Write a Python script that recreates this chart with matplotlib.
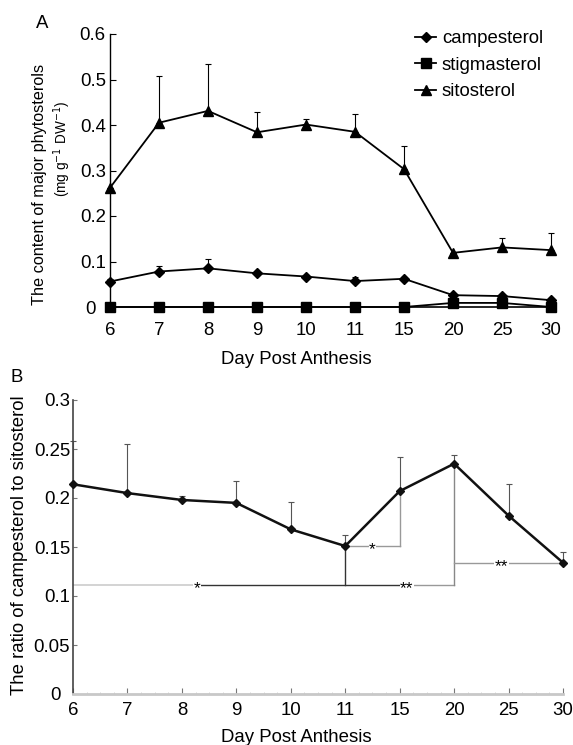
import numpy as np
import matplotlib
matplotlib.use("Agg")
import matplotlib.pyplot as plt
from matplotlib.ticker import MultipleLocator
from matplotlib.transforms import offset_copy, ScaledTranslation

plt.rcParams['font.family'] = ['Liberation Sans', 'DejaVu Sans']

# ---------------- data ----------------
days = ['6', '7', '8', '9', '10', '11', '15', '20', '25', '30']

campesterol = [0.056, 0.078, 0.085, 0.074, 0.067, 0.057, 0.062, 0.026, 0.024, 0.015]
campesterol_err = [0.006, 0.013, 0.020, 0.004, 0.004, 0.008, 0.003, 0.003, 0.003, 0.003]
stigmasterol = [0.0, 0.0, 0.0, 0.0, 0.0, 0.0, 0.0, 0.009, 0.009, 0.0]
sitosterol = [0.262, 0.405, 0.431, 0.384, 0.401, 0.385, 0.303, 0.119, 0.131, 0.125]
sitosterol_err = [0.0, 0.103, 0.102, 0.044, 0.012, 0.039, 0.051, 0.0, 0.021, 0.038]

ratio = [0.214, 0.205, 0.198, 0.195, 0.168, 0.151, 0.207, 0.235, 0.182, 0.134]
ratio_err = [0.044, 0.050, 0.004, 0.022, 0.028, 0.011, 0.035, 0.009, 0.032, 0.011]

a_yticks = [0, 0.1, 0.2, 0.3, 0.4, 0.5, 0.6]
a_yticklabels = ['0', '0.1', '0.2', '0.3', '0.4', '0.5', '0.6']
b_yticks = [0, 0.05, 0.1, 0.15, 0.2, 0.25, 0.3]
b_yticklabels = ['0', '0.05', '0.1', '0.15', '0.2', '0.25', '0.3']

# significance bracket base level and star positions
base_level = 0.111
star_single_x = 2.28
star_double_x = 6.13
star_pair_x = 7.87
star_11_15_x = 5.5

FS = 13.4
W, H = 573, 745
fig = plt.figure(figsize=(W / 100, H / 100), dpi=100)

def fx(px):
    return px / W

def fy(py):
    return 1 - py / H

x = np.arange(len(days))
zeros = np.zeros(len(days))

# ---------------- panel A ----------------
axA = fig.add_axes([fx(110), fy(307), fx(551) - fx(110), fy(34) - fy(307)])
axA.errorbar(x, sitosterol, yerr=[zeros, sitosterol_err], fmt='none', ecolor='black',
             elinewidth=0.8, capsize=2, capthick=0.8, clip_on=False)
axA.errorbar(x, campesterol, yerr=[zeros, campesterol_err], fmt='none', ecolor='black',
             elinewidth=0.8, capsize=2, capthick=0.8, clip_on=False)
axA.plot(x, campesterol, '-D', color='black', lw=1.3, ms=5.5, clip_on=False,
         label='campesterol', zorder=3)
axA.plot(x, stigmasterol, '-s', color='black', lw=1.3, ms=6.5, clip_on=False,
         label='stigmasterol', zorder=3)
axA.plot(x, sitosterol, '-^', color='black', lw=1.3, ms=7.5, clip_on=False,
         label='sitosterol', zorder=3)

axA.set_xlim(0, 9)
axA.set_ylim(0, 0.6)
axA.set_xticks(x)
axA.set_xticklabels(days)
axA.set_yticks(a_yticks)
axA.set_yticklabels(a_yticklabels)
axA.tick_params(axis='x', length=0, pad=11, labelsize=FS)
axA.tick_params(axis='y', direction='in', length=4, width=0.8, pad=3, labelsize=FS)
for s in ['top', 'right']:
    axA.spines[s].set_visible(False)
axA.spines['left'].set_linewidth(1.0)
axA.spines['bottom'].set_linewidth(1.2)
# the "0" label sits further left in the reference
lbl0 = axA.get_yticklabels()[0]
lbl0.set_transform(lbl0.get_transform() + ScaledTranslation(-10 / 100, 0, fig.dpi_scale_trans))

axA.legend(loc='upper left', bbox_to_anchor=((415 - 110) / 441, (307 - 30) / 273),
           frameon=False, fontsize=FS, handlelength=1.15, handletextpad=0.3,
           labelspacing=0.52, borderpad=0, borderaxespad=0, numpoints=1)

fig.text(fx(42), fy(24), 'A', fontsize=FS, ha='center', va='center')
fig.text(fx(40), fy(184), 'The content of major phytosterols', fontsize=11.7,
         rotation=90, ha='center', va='center')
fig.text(fx(62), fy(149), '(mg g$^{-1}$ DW$^{-1}$)', fontsize=9.8,
         rotation=90, ha='center', va='center')
fig.text(fx(296), fy(359), 'Day Post Anthesis', fontsize=FS, ha='center', va='center')

# ---------------- panel B ----------------
axB = fig.add_axes([fx(73), fy(694), fx(563) - fx(73), fy(400) - fy(694)])
axB.errorbar(x, ratio, yerr=[zeros, ratio_err], fmt='none', ecolor='#555555',
             elinewidth=0.8, capsize=2, capthick=0.8, clip_on=False)

# significance brackets
axB.plot([0, star_single_x], [base_level, base_level], color='#d0d0d0', lw=1.3, zorder=1)
axB.plot([star_single_x, star_double_x], [base_level, base_level], color='#333333', lw=1.0, zorder=1)
axB.plot([star_double_x, 7], [base_level, base_level], color='#999999', lw=1.0, zorder=1)
axB.plot([5, 5], [base_level, ratio[5]], color='#333333', lw=1.0, zorder=1)
axB.plot([7, 7], [base_level, ratio[7]], color='#888888', lw=1.0, zorder=1)
axB.plot([5, 6], [ratio[5], ratio[5]], color='#999999', lw=1.0, zorder=1)
axB.plot([6, 6], [ratio[5], ratio[6]], color='#999999', lw=1.0, zorder=1)
axB.plot([7, 9], [ratio[9], ratio[9]], color='#999999', lw=1.0, zorder=1)

bb = dict(facecolor='white', edgecolor='none', pad=0.3)
star_tr = offset_copy(axB.transData, fig=fig, x=0, y=-3.8, units='dots')
for sx, sy, s in [(star_single_x, base_level, '*'), (star_double_x, base_level, '**'),
                  (star_pair_x, ratio[9], '**'), (star_11_15_x, ratio[5], '*')]:
    axB.text(sx, sy, s, fontsize=12.5, ha='center', va='center', bbox=bb,
             transform=star_tr, zorder=2)

axB.plot(x, ratio, '-D', color='#111111', lw=1.8, ms=3.8, clip_on=False, zorder=3)

axB.set_xlim(0, 9)
axB.set_ylim(0, 0.3)
axB.set_xticks(x)
axB.set_xticklabels(days)
axB.xaxis.set_minor_locator(MultipleLocator(0.25))
axB.set_yticks(b_yticks)
axB.set_yticklabels(b_yticklabels)
axB.tick_params(axis='x', which='major', direction='in', length=4, width=0.8,
                color='#777777', pad=5.5, labelsize=FS)
axB.tick_params(axis='x', which='minor', direction='in', length=1.5, width=0.6,
                color='#cccccc')
axB.tick_params(axis='y', direction='in', length=3, width=0.8, color='#777777',
                pad=2, labelsize=FS)
for s in ['top', 'right']:
    axB.spines[s].set_visible(False)
axB.spines['left'].set_color('#444444')
axB.spines['left'].set_linewidth(1.2)
axB.spines['bottom'].set_color('#c8c8c8')
axB.spines['bottom'].set_linewidth(2.0)
lblb0 = axB.get_yticklabels()[0]
lblb0.set_transform(lblb0.get_transform() + ScaledTranslation(-9 / 100, 0, fig.dpi_scale_trans))

fig.text(fx(17), fy(378), 'B', fontsize=FS, ha='center', va='center')
fig.text(fx(20), fy(545), 'The ratio of campesterol to sitosterol', fontsize=FS,
         rotation=90, ha='center', va='center')
fig.text(fx(296), fy(737), 'Day Post Anthesis', fontsize=FS, ha='center', va='center')

fig.savefig('out.png', dpi=100)
